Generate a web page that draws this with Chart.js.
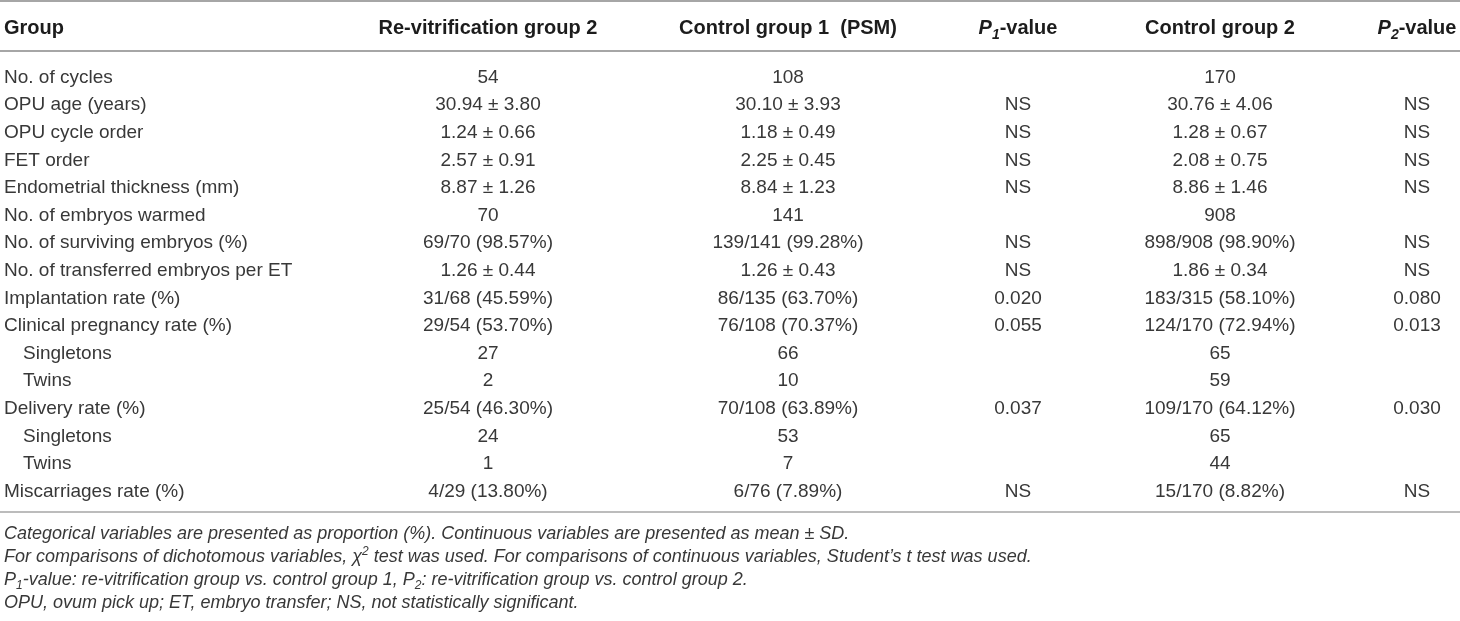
<!DOCTYPE html>
<html>
<head>
<meta charset="utf-8">
<title>Re-vitrification outcomes</title>
<script src="https://cdn.jsdelivr.net/npm/chart.js@4"></script>
<style>
  html, body { margin: 0; padding: 0; background: #fff; }
  #wrap { width: 1460px; height: 621px; position: relative; }
</style>
</head>
<body>
<div id="wrap"><canvas id="tableChart"></canvas></div>
<script>
// table content
const rowLabels = [
  "No. of cycles",
  "OPU age (years)",
  "OPU cycle order",
  "FET order",
  "Endometrial thickness (mm)",
  "No. of embryos warmed",
  "No. of surviving embryos (%)",
  "No. of transferred embryos per ET",
  "Implantation rate (%)",
  "Clinical pregnancy rate (%)",
  "Singletons",
  "Twins",
  "Delivery rate (%)",
  "Singletons",
  "Twins",
  "Miscarriages rate (%)"
];
const indentedRows = [10, 11, 13, 14];

const revitGroup2 = ["54", "30.94 ± 3.80", "1.24 ± 0.66", "2.57 ± 0.91", "8.87 ± 1.26", "70",
  "69/70 (98.57%)", "1.26 ± 0.44", "31/68 (45.59%)", "29/54 (53.70%)", "27", "2",
  "25/54 (46.30%)", "24", "1", "4/29 (13.80%)"];
const controlGroup1 = ["108", "30.10 ± 3.93", "1.18 ± 0.49", "2.25 ± 0.45", "8.84 ± 1.23", "141",
  "139/141 (99.28%)", "1.26 ± 0.43", "86/135 (63.70%)", "76/108 (70.37%)", "66", "10",
  "70/108 (63.89%)", "53", "7", "6/76 (7.89%)"];
const p1Values = ["", "NS", "NS", "NS", "NS", "", "NS", "NS", "0.020", "0.055", "", "",
  "0.037", "", "", "NS"];
const controlGroup2 = ["170", "30.76 ± 4.06", "1.28 ± 0.67", "2.08 ± 0.75", "8.86 ± 1.46", "908",
  "898/908 (98.90%)", "1.86 ± 0.34", "183/315 (58.10%)", "124/170 (72.94%)", "65", "59",
  "109/170 (64.12%)", "65", "44", "15/170 (8.82%)"];
const p2Values = ["", "NS", "NS", "NS", "NS", "", "NS", "NS", "0.080", "0.013", "", "",
  "0.030", "", "", "NS"];

const headerGroup = "Group";
const columnHeaders = [
  [{ t: "Re-vitrification group 2" }],
  [{ t: "Control group 1  (PSM)" }],
  [{ t: "P", i: true }, { t: "1", i: true, sub: true }, { t: "-value" }],
  [{ t: "Control group 2" }],
  [{ t: "P", i: true }, { t: "2", i: true, sub: true }, { t: "-value" }]
];
const columns = [revitGroup2, controlGroup1, p1Values, controlGroup2, p2Values];

const footnotes = [
  [{ t: "Categorical variables are presented as proportion (%). Continuous variables are presented as mean ± SD." }],
  [{ t: "For comparisons of dichotomous variables, " }, { t: "χ" }, { t: "2", sup: true },
   { t: " test was used. For comparisons of continuous variables, Student’s t test was used." }],
  [{ t: "P" }, { t: "1", sub: true }, { t: "-value: re-vitrification group vs. control group 1, P" },
   { t: "2", sub: true }, { t: ": re-vitrification group vs. control group 2." }],
  [{ t: "OPU, ovum pick up; ET, embryo transfer; NS, not statistically significant." }]
];

// layout
const W = 1460, H = 621;
const colCenters = [488, 788, 1018, 1220, 1417];
const leftX = 4;
const FONT = '"Liberation Sans", Arial, Helvetica, sans-serif';
const BODY_SIZE = 19;
const HEAD_SIZE = 20;
const NOTE_SIZE = 18;
const TEXT = "#383838";
const HEAD_TEXT = "#1c1c1c";
const RULE = "#a6a6a6";

function fontFor(seg, bold, italic, size) {
  return (italic || seg.i ? "italic " : "") + (bold || seg.b ? "bold " : "") + size + "px " + FONT;
}

function drawRich(ctx, segs, x, y, align, size, bold, italic) {
  const parts = segs.map(s => {
    const sz = s.sub || s.sup ? Math.round(size * 0.68) : size;
    ctx.font = fontFor(s, bold, italic, sz);
    return { s, sz, w: ctx.measureText(s.t).width };
  });
  const total = parts.reduce((a, p) => a + p.w, 0);
  let cx = align === "center" ? x - total / 2 : x;
  ctx.textAlign = "left";
  ctx.textBaseline = "alphabetic";
  parts.forEach(p => {
    ctx.font = fontFor(p.s, bold, italic, p.sz);
    let dy = 0;
    if (p.s.sub) dy = size * 0.22;
    if (p.s.sup) dy = -size * 0.4;
    ctx.fillText(p.s.t, cx, y + dy);
    cx += p.w;
  });
}

const tablePlugin = {
  id: "tablePlugin",
  afterDraw(chart) {
    const ctx = chart.ctx;
    const x = chart.scales.x;
    const y = chart.scales.y;

    ctx.save();

    // rules
    ctx.strokeStyle = RULE;
    const rule = (py, lw) => {
      ctx.lineWidth = lw;
      ctx.beginPath();
      ctx.moveTo(0, py);
      ctx.lineTo(W, py);
      ctx.stroke();
    };
    const firstRow = y.getPixelForValue(0);
    const lastRow = y.getPixelForValue(rowLabels.length - 1);
    rule(1, 2);
    rule(firstRow - 25, 2);
    rule(lastRow + 22, 1.5);

    // header row
    ctx.fillStyle = HEAD_TEXT;
    const headY = 27 + HEAD_SIZE * 0.36;
    drawRich(ctx, [{ t: headerGroup }], x.getPixelForValue(leftX), headY, "left", HEAD_SIZE, true);
    columnHeaders.forEach((h, c) => {
      drawRich(ctx, h, x.getPixelForValue(colCenters[c]), headY, "center", HEAD_SIZE, true);
    });

    // body
    ctx.fillStyle = TEXT;
    rowLabels.forEach((label, r) => {
      const py = y.getPixelForValue(r) + BODY_SIZE * 0.36;
      const indent = indentedRows.includes(r) ? 19 : 0;
      drawRich(ctx, [{ t: label }], x.getPixelForValue(leftX) + indent, py, "left", BODY_SIZE);
      columns.forEach((col, c) => {
        if (col[r]) drawRich(ctx, [{ t: col[r] }], x.getPixelForValue(colCenters[c]), py, "center", BODY_SIZE);
      });
    });

    // footnotes
    footnotes.forEach((f, k) => {
      const py = lastRow + 22 + 21 + k * 23 + NOTE_SIZE * 0.36;
      drawRich(ctx, f, x.getPixelForValue(leftX), py, "left", NOTE_SIZE, false, true);
    });
    ctx.restore();
  }
};

const rowPitch = 27.6;
const firstCentre = 76;
const areaTop = firstCentre - rowPitch / 2;
const areaBottom = areaTop + rowPitch * rowLabels.length;

new Chart(document.getElementById("tableChart"), {
  type: "scatter",
  data: {
    datasets: [{ data: [], pointRadius: 0 }]
  },
  options: {
    responsive: true,
    maintainAspectRatio: false,
    animation: false,
    events: [],
    layout: { padding: { top: areaTop, bottom: H - areaBottom, left: 0, right: 0 } },
    plugins: { legend: { display: false }, tooltip: { enabled: false } },
    scales: {
      x: { type: "linear", min: 0, max: W, display: false },
      y: { type: "category", labels: rowLabels, offset: true, display: false }
    }
  },
  plugins: [tablePlugin]
});
</script>
</body>
</html>
